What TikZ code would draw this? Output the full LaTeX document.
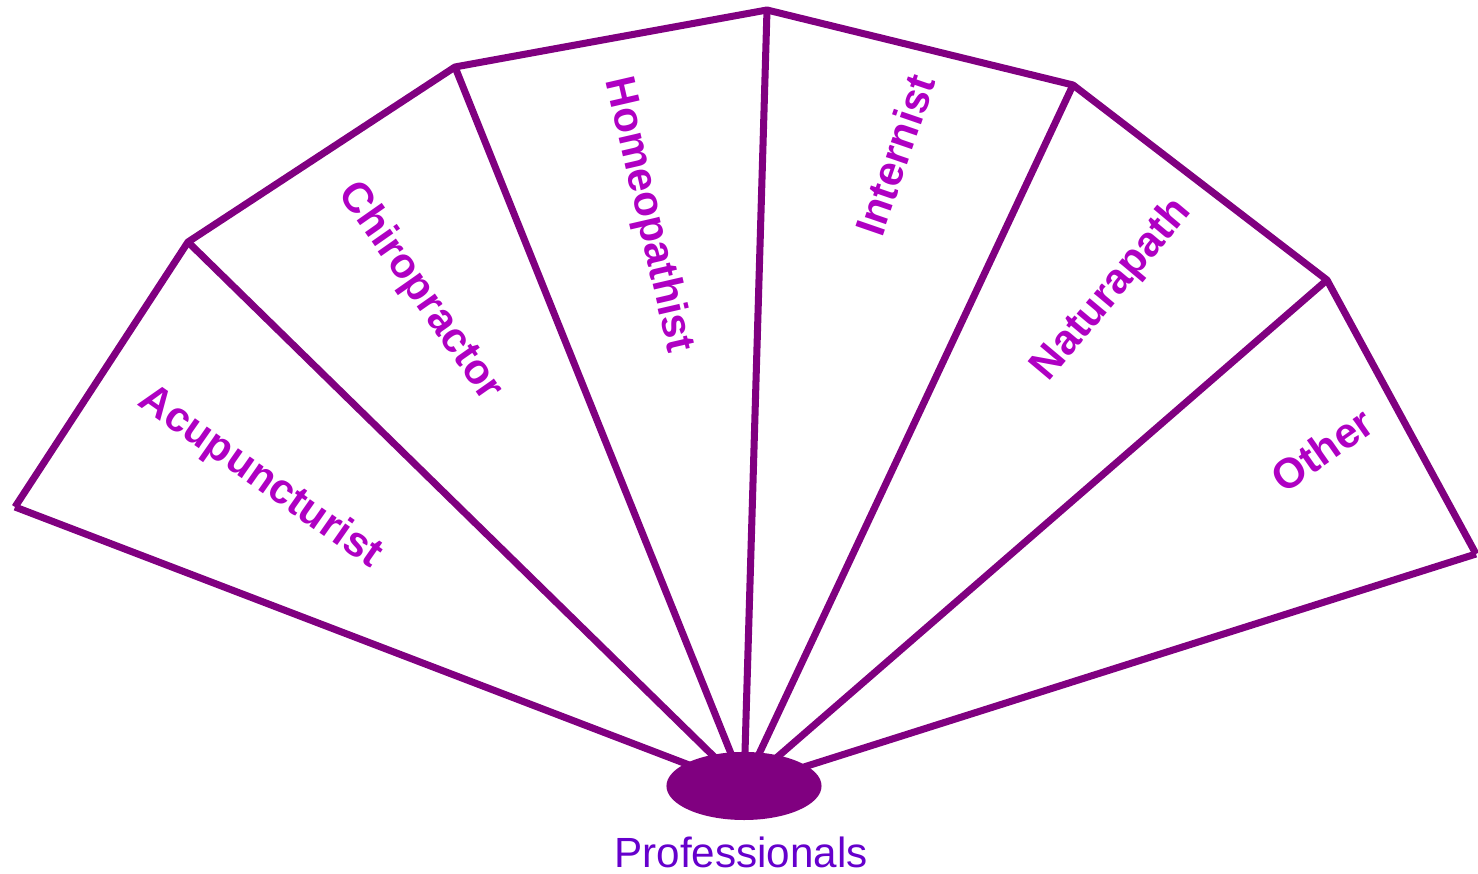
\documentclass[tikz,border=0pt]{standalone}
\usepackage{fontspec}
\setmainfont{Liberation Sans}
\usepackage{xcolor}
\usepackage{tikz}
\usetikzlibrary{shapes.geometric}

\definecolor{fanline}{RGB}{128,0,128}
\definecolor{fanlabel}{RGB}{175,0,195}
\definecolor{hublabel}{RGB}{102,0,204}

\begin{document}
\begin{tikzpicture}[x=0.01cm,y=-0.01cm,
		rib/.style={fanline, line width=2pt},
		lbl/.style={fanlabel, font=\fontsize{12}{14}\selectfont\bfseries}]
		\useasboundingbox (0,0) rectangle (1478,874);
		
		\node[ellipse, fill=fanline, minimum width=1.55cm, minimum height=0.68cm, inner sep=0pt] (hub) at (744,786) {};
		
		% rim of the fan
		\coordinate (p0) at (15,507);
		\coordinate (p1) at (188,242);
		\coordinate (p2) at (455,67);
		\coordinate (p3) at (767,10);
		\coordinate (p4) at (1073,85);
		\coordinate (p5) at (1327,280);
		\coordinate (p6) at (1476,554);
		\draw[rib, line join=round] (p0) -- (p1) -- (p2) -- (p3) -- (p4) -- (p5) -- (p6);
		
		\foreach \i in {0,...,6}{
			\draw[rib, shorten >=-6pt] (p\i) -- (hub);
		}
		
		\node[lbl, rotate=-35] (acu) at (260,478) {Acupuncturist};
		\node[lbl, rotate=-55] (chiro) at (420,292) {Chiropractor};
		\node[lbl, rotate=-77] (homeo) at (648,215) {Homeopathist};
		\node[lbl, rotate=71] (intern) at (895,155) {Internist};
		\node[lbl, rotate=50] (natur) at (1112,290) {Naturapath};
		\node[lbl, rotate=35] (other) at (1322,450) {Other};
		
		\node[hublabel, anchor=base, font=\fontsize{12}{14}\selectfont] (prof) at (741,868) {Professionals};
	\end{tikzpicture}
\end{document}
